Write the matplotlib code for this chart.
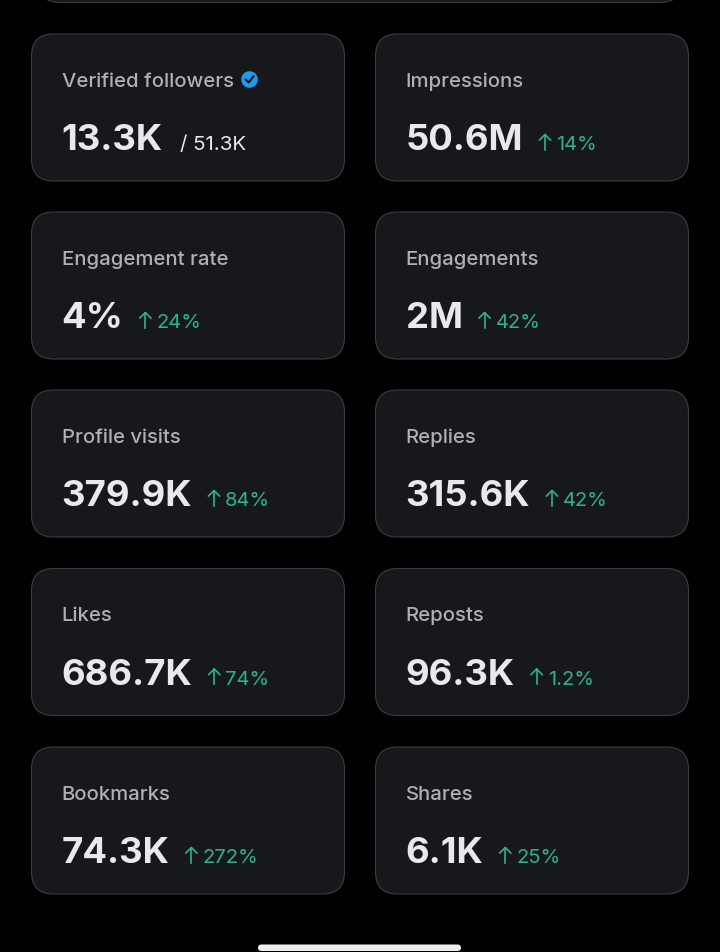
import matplotlib
matplotlib.use("Agg")
import matplotlib.pyplot as plt
from matplotlib.patches import FancyBboxPatch, Circle
from matplotlib.lines import Line2D

labels = ["Verified followers", "Impressions", "Engagement rate", "Engagements",
          "Profile visits", "Replies", "Likes", "Reposts", "Bookmarks", "Shares"]
values = ["13.3K", "50.6M", "4%", "2M", "379.9K", "315.6K", "686.7K", "96.3K", "74.3K", "6.1K"]
deltas = ["/ 51.3K", "14%", "24%", "42%", "84%", "42%", "74%", "1.2%", "272%", "25%"]

W, H = 720, 953
BG = "#000000"; CARD = "#16181c"; EDGE = "#3a3d42"
LABEL = "#adb0b5"; VALUE = "#e7e9ea"; GREEN = "#2fb387"; BLUE = "#1d9bf0"
col_x = [31.5, 375.5]
row_y = [35.0, 213.0, 391.0, 569.5, 748.0]
CW, CH, R = 313, 147, 22

plt.rcParams['font.family'] = ['Inter', 'DejaVu Sans']
fig = plt.figure(figsize=(W/100, H/100), dpi=100, facecolor=BG)
ax = fig.add_axes([0, 0, 1, 1]); ax.set_xlim(0, W); ax.set_ylim(H, 0); ax.axis('off')

def card(x, y, w, h, r, fc=CARD, ec=EDGE):
    ax.add_patch(FancyBboxPatch((x+r, y+r), w-2*r, h-2*r, boxstyle=f"round,pad={r},rounding_size={r}",
                                fc=fc, ec=ec, lw=0.8, mutation_aspect=1))

# partial card cut off at the top
card(38, -60, 644, 63.5, 22)
# home indicator
ax.add_patch(FancyBboxPatch((261, 948.5), 197, 0.5, boxstyle="round,pad=3,rounding_size=3.5", fc="#eeeeee", ec="none"))

rend = fig.canvas.get_renderer()
inv = ax.transData.inverted()
def right(t):
    bb = t.get_window_extent(rend)
    return inv.transform((bb.x1, 0))[0]

for i, (lab, val, d) in enumerate(zip(labels, values, deltas)):
    x = col_x[i % 2]; y = row_y[i // 2]
    card(x, y, CW, CH, R)
    tx = x + 30
    tl = ax.text(tx, y+52, lab, color=LABEL, fontsize=14.6, fontweight='medium', va='baseline', ha='left')
    tv = ax.text(tx, y+115.5, val, color=VALUE, fontsize=26.3, fontweight='bold', va='baseline', ha='left')
    xr = right(tv)
    if i == 0:
        ax.text(xr+17, y+115.5, d, color=VALUE, fontsize=14.8, va='baseline', ha='left')
        cx, cy = right(tl)+16, y+45.5
        ax.add_patch(Circle((cx, cy), 8.3, fc=BLUE, ec='none'))
        ax.add_line(Line2D([cx-3.6, cx-0.8, cx+3.8], [cy+0.2, cy+3, cy-3], color=CARD, lw=1.6))
    else:
        ax0 = xr + 22
        ax.add_line(Line2D([ax0, ax0], [y+115.5, y+100.5], color=GREEN, lw=1.2))
        ax.add_line(Line2D([ax0-5.5, ax0, ax0+5.5], [y+106, y+100.5, y+106], color=GREEN, lw=1.2))
        ax.text(ax0+11, y+115.5, d, color=GREEN, fontsize=14.5, va='baseline', ha='left')

fig.savefig("out.png", dpi=100, facecolor=BG)
